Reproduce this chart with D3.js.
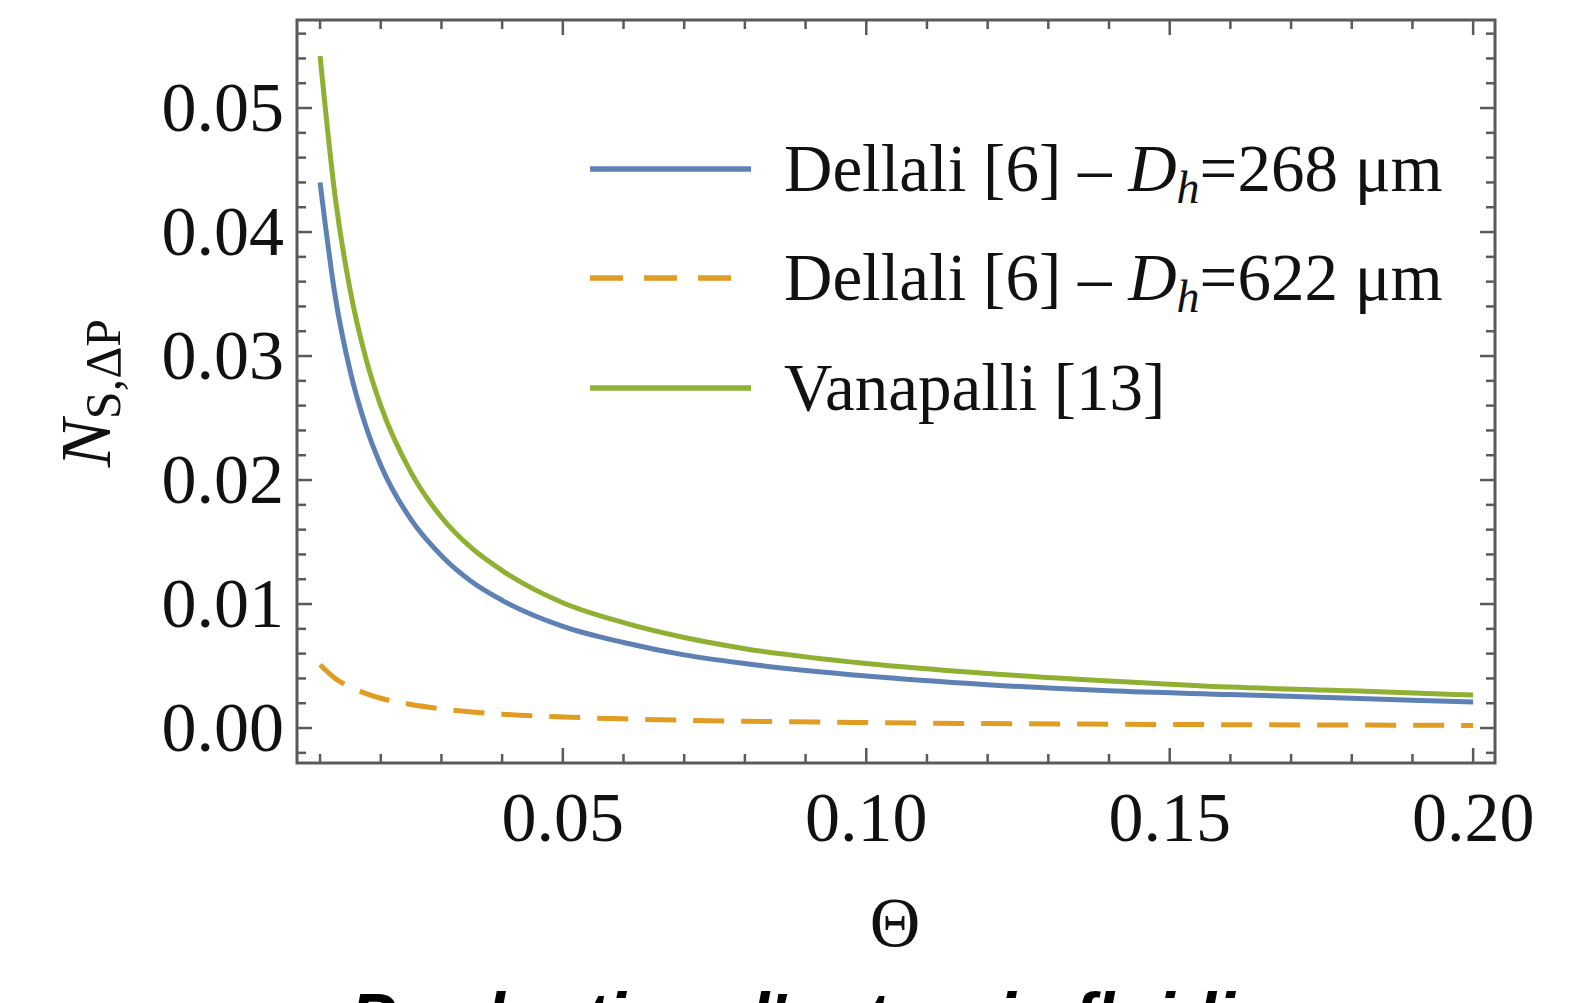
<!DOCTYPE html>
<html>
<head>
<meta charset="utf-8">
<script src="https://cdn.jsdelivr.net/npm/d3@7/dist/d3.min.js"></script>
<style>
  html, body { margin: 0; padding: 0; background: #fff; }
  svg { display: block; }
</style>
</head>
<body>
<svg id="chart" width="1580" height="1003"></svg>
<script>
// ---- data ----
const theta = [0.01, 0.0125, 0.015, 0.0175, 0.02, 0.025, 0.03, 0.035, 0.04, 0.05, 0.06, 0.07, 0.08, 0.10, 0.12, 0.14, 0.16, 0.18, 0.20];
const dellali268 = [0.0440, 0.0348, 0.0287, 0.0244, 0.0212, 0.0168, 0.0139, 0.0118, 0.0103, 0.0082, 0.0069, 0.0059, 0.0052, 0.0042, 0.0035, 0.0030, 0.0027, 0.0024, 0.0021];
const dellali622 = [0.0051, 0.0040, 0.0033, 0.0028, 0.0024, 0.0019, 0.00155, 0.0013, 0.00112, 0.00089, 0.00074, 0.00063, 0.00055, 0.00044, 0.00036, 0.00031, 0.00027, 0.00024, 0.00021];
const vanapalli = [0.0542, 0.0428, 0.0352, 0.0299, 0.0260, 0.0206, 0.0170, 0.0145, 0.0127, 0.0101, 0.0085, 0.0073, 0.0064, 0.0052, 0.0044, 0.0038, 0.0033, 0.0030, 0.00266];

const xTickValues = [0.05, 0.10, 0.15, 0.20];
const xTickLabels = ["0.05", "0.10", "0.15", "0.20"];
const yTickValues = [0.00, 0.01, 0.02, 0.03, 0.04, 0.05];
const yTickLabels = ["0.00", "0.01", "0.02", "0.03", "0.04", "0.05"];
const xMinorTicks = d3.range(1, 21).map(i => i / 100);
const yMinorTicks = d3.range(-1, 29).map(i => i * 0.002);

const seriesNames = ["Dellali [6] – ", "Dellali [6] – ", "Vanapalli [13]"];
const seriesSuffix = ["=268 μm", "=622 μm", ""];
const seriesColors = ["#5E81B5", "#E19C24", "#8FB032"];

// ---- layout ----
const svg = d3.select("#chart");
const L = 297, T = 20, R = 1495, B = 763;
const x = d3.scaleLinear().domain([0.0062, 0.2036]).range([L, R]);
const y = d3.scaleLinear().domain([-0.00282, 0.0571]).range([B, T]);

const serif = "'Liberation Serif', 'Times New Roman', serif";
const frameColor = "#5a5a5a";

svg.append("defs").append("clipPath").attr("id", "clip")
  .append("rect").attr("x", L).attr("y", T).attr("width", R - L).attr("height", B - T);

// ---- series ----
const series = [
  { values: dellali268, color: seriesColors[0], dash: null },
  { values: dellali622, color: seriesColors[1], dash: "31,17" },
  { values: vanapalli, color: seriesColors[2], dash: null }
];
const lineGen = d3.line().x(d => x(d[0])).y(d => y(d[1])).curve(d3.curveMonotoneX);

const g = svg.append("g").attr("clip-path", "url(#clip)");
series.forEach(s => {
  g.append("path")
    .datum(theta.map((t, i) => [t, s.values[i]]))
    .attr("d", lineGen)
    .attr("fill", "none")
    .attr("stroke", s.color)
    .attr("stroke-width", 5)
    .attr("stroke-dasharray", s.dash);
});

// ---- frame ticks (all four sides, inward) ----
const tickG = svg.append("g").attr("stroke", frameColor).attr("stroke-width", 2.5);
xMinorTicks.forEach(v => {
  const major = xTickValues.some(t => Math.abs(t - v) < 1e-9);
  const len = major ? 15 : 9;
  const px = x(v);
  tickG.append("line").attr("x1", px).attr("x2", px).attr("y1", B).attr("y2", B - len);
  tickG.append("line").attr("x1", px).attr("x2", px).attr("y1", T).attr("y2", T + len);
});
yMinorTicks.forEach(v => {
  const major = yTickValues.some(t => Math.abs(t - v) < 1e-9);
  const len = major ? 15 : 9;
  const py = y(v);
  if (py < T + 1 || py > B - 1) return;
  tickG.append("line").attr("x1", L).attr("x2", L + len).attr("y1", py).attr("y2", py);
  tickG.append("line").attr("x1", R).attr("x2", R - len).attr("y1", py).attr("y2", py);
});

svg.append("rect").attr("x", L).attr("y", T).attr("width", R - L).attr("height", B - T)
  .attr("fill", "none").attr("stroke", frameColor).attr("stroke-width", 3);

// ---- tick labels ----
const fs = 70;
xTickValues.forEach((v, i) => {
  svg.append("text").attr("x", x(v)).attr("y", 841)
    .attr("text-anchor", "middle").attr("font-family", serif).attr("font-size", fs)
    .attr("fill", "#111").text(xTickLabels[i]);
});
yTickValues.forEach((v, i) => {
  svg.append("text").attr("x", 284).attr("y", y(v) + 23)
    .attr("text-anchor", "end").attr("font-family", serif).attr("font-size", fs)
    .attr("fill", "#111").text(yTickLabels[i]);
});

// ---- axis labels ----
svg.append("text").attr("x", 895).attr("y", 946)
  .attr("text-anchor", "middle").attr("font-family", serif).attr("font-size", 70)
  .attr("fill", "#111").text("Θ");

const yl = svg.append("text").attr("transform", "translate(110,393) rotate(-90)")
  .attr("text-anchor", "middle").attr("font-family", serif).attr("fill", "#111");
yl.append("tspan").attr("font-size", 72).attr("font-style", "italic").text("N");
yl.append("tspan").attr("font-size", 50).attr("dy", 10).text("S,ΔP");

// ---- legend ----
const legY = [169, 278, 388];
const leg = svg.append("g");
series.forEach((s, i) => {
  leg.append("line").attr("x1", 590).attr("x2", 751).attr("y1", legY[i]).attr("y2", legY[i])
    .attr("stroke", s.color).attr("stroke-width", 5.5)
    .attr("stroke-dasharray", s.dash ? "33,21" : null);
  const t = leg.append("text").attr("x", 784).attr("y", legY[i] + 22)
    .attr("font-family", serif).attr("font-size", 67).attr("fill", "#111");
  t.append("tspan").text(seriesNames[i]);
  if (seriesSuffix[i]) {
    t.append("tspan").attr("font-style", "italic").text("D");
    t.append("tspan").attr("font-style", "italic").attr("font-size", 46).attr("dy", 12).text("h");
    t.append("tspan").attr("dy", -12).text(seriesSuffix[i]);
  }
});

// ---- caption (cut off at bottom edge, as in the reference) ----
svg.append("text").attr("x", 350).attr("y", 1041)
  .attr("font-family", "'Liberation Sans', Arial, sans-serif").attr("font-style", "italic")
  .attr("font-weight", "bold")
  .attr("font-size", 68).attr("fill", "#000").text("Production d'entropie fluidique");
</script>
</body>
</html>
